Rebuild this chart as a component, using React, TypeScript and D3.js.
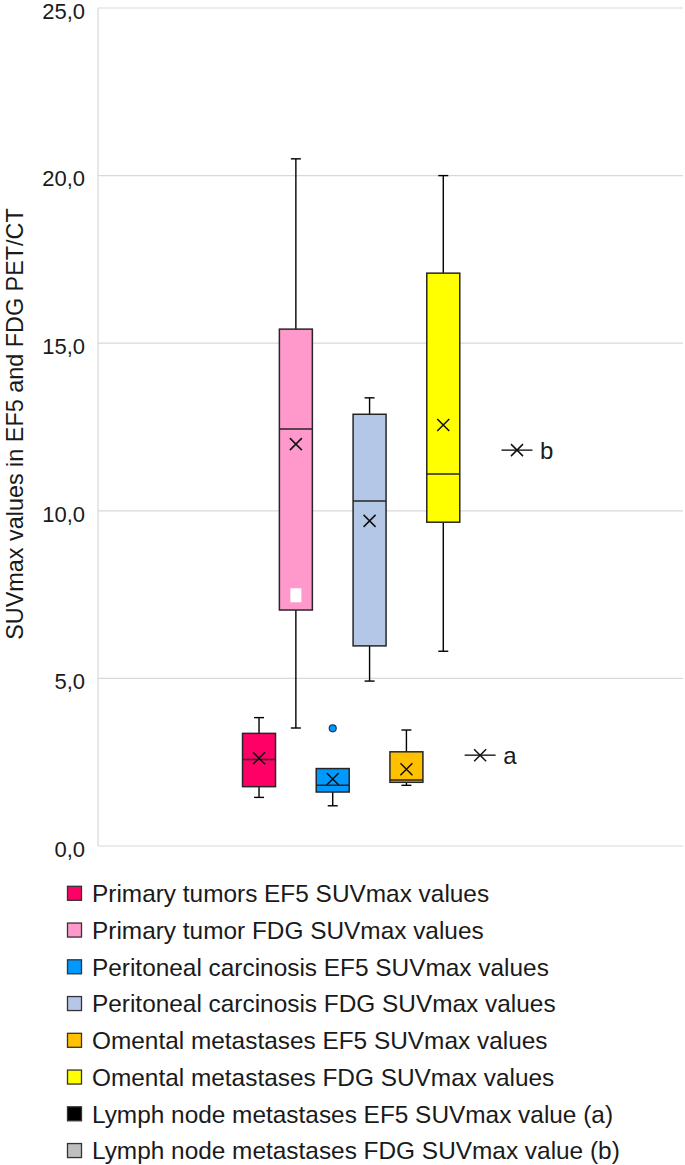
import React from 'react';
import * as d3 from 'd3';

const seriesNames = [
  'Primary tumors EF5 SUVmax values',
  'Primary tumor FDG SUVmax values',
  'Peritoneal carcinosis EF5 SUVmax values',
  'Peritoneal carcinosis FDG SUVmax values',
  'Omental metastases EF5 SUVmax values',
  'Omental metastases FDG SUVmax values',
  'Lymph node metastases EF5 SUVmax value (a)',
  'Lymph node metastases FDG SUVmax value (b)',
];
const seriesColors = ['#FF0066', '#FF99CC', '#0099FF', '#B4C7E7', '#FFC000', '#FFFF00', '#000000', '#BFBFBF'];
const whiskerLow = [1.45, 3.52, 1.2, 4.92, 1.81, 5.81, 2.71, 11.81];
const q1 = [1.77, 7.04, 1.61, 5.97, 1.9, 9.66, 2.71, 11.81];
const median = [2.58, 12.44, 1.81, 10.29, 1.97, 11.1, 2.71, 11.81];
const q3 = [3.36, 15.42, 2.31, 12.88, 2.81, 17.09, 2.71, 11.81];
const whiskerHigh = [3.83, 20.5, 2.31, 13.37, 3.46, 20.0, 2.71, 11.81];
const means = [2.62, 11.99, 2.0, 9.7, 2.29, 12.56, 2.71, 11.81];
const pointLabels = ['', '', '', '', '', '', 'a', 'b'];
const outliers = [{ series: 2, value: 3.51 }];
const whiteMarks = [{ series: 1, value: 7.48 }];
const yTicks = [0, 5, 10, 15, 20, 25];
const yTitle = 'SUVmax values in EF5 and FDG PET/CT';

const W = 685;
const H = 1165;
const plotLeft = 98;
const plotRight = 683;
const plotTop = 8;
const plotBottom = 846;

export default function App() {
  const y = d3.scaleLinear().domain([0, 25]).range([plotBottom, plotTop]);
  const x = d3
    .scaleBand<string>()
    .domain(seriesNames)
    .range([plotLeft - 2.5, plotRight - 2.5])
    .paddingInner(0.105)
    .paddingOuter(3.99);
  const bw = x.bandwidth();
  const fmt = (v: number) => d3.format('.1f')(v).replace('.', ',');
  const font = '"Liberation Sans", Arial, sans-serif';
  const legendY0 = 893.3;
  const legendStep = 36.75;

  return (
    <svg
      width={W}
      height={H}
      style={{ position: 'absolute', left: 0, top: 0, background: '#fff' }}
      fontFamily={font}
    >
      {/* grid */}
      {yTicks.map((t) => (
        <line key={'g' + t} x1={plotLeft} x2={plotRight} y1={y(t)} y2={y(t)} stroke="#D9D9D9" strokeWidth={1.2} />
      ))}
      <line x1={plotLeft} x2={plotLeft} y1={plotTop} y2={plotBottom} stroke="#D9D9D9" strokeWidth={1.2} />
      {yTicks.map((t) => (
        <text key={'t' + t} x={85} y={y(t) + 3} dy="0.35em" textAnchor="end" fontSize={22} fill="#1a1a1a">
          {fmt(t)}
        </text>
      ))}
      <text
        transform={`translate(23, 424) rotate(-90)`}
        textAnchor="middle"
        fontSize={23.4}
        fontFamily='"Liberation Sans Narrow", "Arial Narrow", "Liberation Sans", sans-serif'
        fill="#1a1a1a"
      >
        {yTitle}
      </text>

      {/* boxes */}
      {seriesNames.map((s, i) => {
        const x0 = x(s) as number;
        const cx = x0 + bw / 2;
        const cap = 10;
        const single = q1[i] === q3[i];
        return (
          <g key={s}>
            {whiskerHigh[i] > q3[i] && (
              <>
                <line x1={cx} x2={cx} y1={y(q3[i])} y2={y(whiskerHigh[i])} stroke="#000" strokeWidth={1.4} />
                <line x1={cx - cap / 2} x2={cx + cap / 2} y1={y(whiskerHigh[i])} y2={y(whiskerHigh[i])} stroke="#000" strokeWidth={1.4} />
              </>
            )}
            {whiskerLow[i] < q1[i] && (
              <>
                <line x1={cx} x2={cx} y1={y(q1[i])} y2={y(whiskerLow[i])} stroke="#000" strokeWidth={1.4} />
                <line x1={cx - cap / 2} x2={cx + cap / 2} y1={y(whiskerLow[i])} y2={y(whiskerLow[i])} stroke="#000" strokeWidth={1.4} />
              </>
            )}
            {single ? (
              <line x1={x0 + 1} x2={x0 + bw - 1} y1={y(median[i])} y2={y(median[i])} stroke="#1a1a1a" strokeWidth={1.4} />
            ) : (
              <>
                <rect
                  x={x0}
                  y={y(q3[i])}
                  width={bw}
                  height={y(q1[i]) - y(q3[i])}
                  fill={seriesColors[i]}
                  stroke="#262626"
                  strokeWidth={1.5}
                />
                <line x1={x0} x2={x0 + bw} y1={y(median[i])} y2={y(median[i])} stroke="#262626" strokeWidth={1.5} />
              </>
            )}
            <path
              d={`M${cx - 6},${y(means[i]) - 6}L${cx + 6},${y(means[i]) + 6}M${cx - 6},${y(means[i]) + 6}L${cx + 6},${y(means[i]) - 6}`}
              stroke="#111"
              strokeWidth={1.5}
              fill="none"
            />
            {pointLabels[i] && (
              <text x={cx + 23} y={y(means[i])} dy="0.35em" fontSize={24} fill="#1a1a1a">
                {pointLabels[i]}
              </text>
            )}
          </g>
        );
      })}
      {outliers.map((o, k) => {
        const s = seriesNames[o.series];
        const cx = (x(s) as number) + bw / 2;
        return <circle key={'o' + k} cx={cx} cy={y(o.value)} r={3.5} fill={seriesColors[o.series]} stroke="#1f3864" strokeWidth={1.2} />;
      })}
      {whiteMarks.map((o, k) => {
        const s = seriesNames[o.series];
        const cx = (x(s) as number) + bw / 2;
        return <rect key={'w' + k} x={cx - 5.5} y={y(o.value) - 7} width={11} height={14} fill="#fff" />;
      })}

      {/* legend */}
      {seriesNames.map((s, i) => (
        <g key={'l' + i} transform={`translate(0, ${legendY0 + i * legendStep})`}>
          <rect x={67.5} y={-7} width={14} height={14} fill={seriesColors[i]} stroke="#333" strokeWidth={1.3} />
          <text x={92} y={0} dy="0.36em" fontSize={24.4} fill="#1a1a1a">
            {s}
          </text>
        </g>
      ))}
    </svg>
  );
}
